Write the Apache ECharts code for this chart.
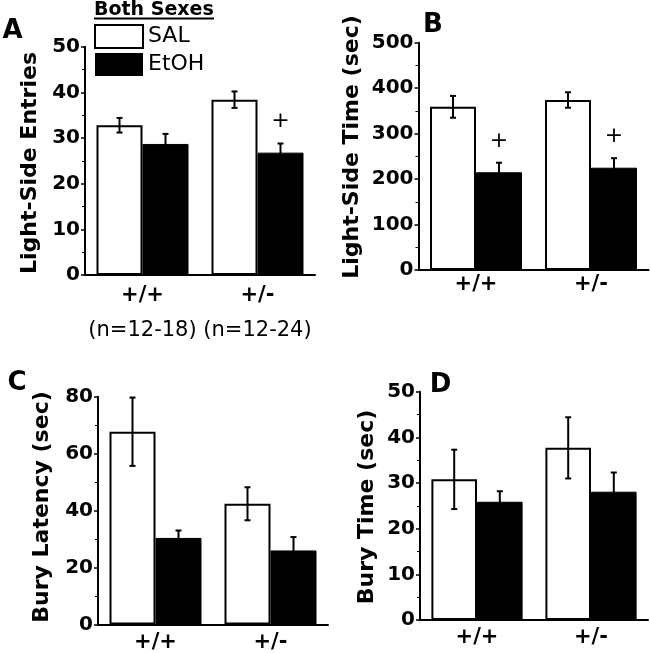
<!DOCTYPE html>
<html>
<head>
<meta charset="utf-8">
<script src="https://cdn.jsdelivr.net/npm/echarts@6/dist/echarts.min.js"></script>
<style>
html,body{margin:0;padding:0;background:#fff;}
#chart{width:650px;height:653px;}
</style>
</head>
<body>
<div id="chart"></div>
<script>
// ---- data ----
const categoriesAB = ['+/+\n(n=12-18)', '+/-\n(n=12-24)'];
const categories = ['+/+', '+/-'];
const seriesNames = ['SAL', 'EtOH'];

// Panel A: Light-Side Entries
const aSAL = [32.8, 38.4];
const aSALerr = [1.6, 1.8];
const aEtOH = [28.7, 26.8];
const aEtOHerr = [2.2, 2.0];
const aSig = ['', '+'];

// Panel B: Light-Side Time (sec)
const bSAL = [359, 374];
const bSALerr = [24, 17];
const bEtOH = [215, 225];
const bEtOHerr = [21, 21];
const bSig = ['+', '+'];

// Panel C: Bury Latency (sec)
const cSAL = [67.7, 42.4];
const cSALerr = [12, 5.8];
const cEtOH = [30.4, 26.0];
const cEtOHerr = [2.6, 4.7];
const cSig = ['', ''];

// Panel D: Bury Time (sec)
const dSAL = [30.8, 37.7];
const dSALerr = [6.5, 6.7];
const dEtOH = [25.9, 28.1];
const dEtOHerr = [2.3, 4.2];
const dSig = ['', ''];

const yAxes = [
  {max: 50, interval: 10},
  {max: 500, interval: 100},
  {max: 80, interval: 20},
  {max: 50, interval: 10}
];

const axisTitles = ['Light-Side Entries', 'Light-Side Time (sec)', 'Bury Latency (sec)', 'Bury Time (sec)'];
const panelLetters = ['A', 'B', 'C', 'D'];

// ---- layout ----
const FONT = 'DejaVu Sans';
const grids = [
  {left: 85, top: 46.7, width: 230, height: 228.3},
  {left: 418.5, top: 42.7, width: 230, height: 227.3},
  {left: 98, top: 396.7, width: 230, height: 228.3},
  {left: 420, top: 391.7, width: 228, height: 228.3}
];
const titlePos = [[30, 163], [352, 147], [42, 507], [367, 507]];
const letterPos = [[12.5, 31], [433, 25], [17, 383], [440.5, 385.5]];

const panels = [
  {sal: aSAL, salErr: aSALerr, etoh: aEtOH, etohErr: aEtOHerr, sig: aSig, cats: categoriesAB, labelMargin: 6},
  {sal: bSAL, salErr: bSALerr, etoh: bEtOH, etohErr: bEtOHerr, sig: bSig, cats: categories, labelMargin: 3},
  {sal: cSAL, salErr: cSALerr, etoh: cEtOH, etohErr: cEtOHerr, sig: cSig, cats: categories, labelMargin: 6},
  {sal: dSAL, salErr: dSALerr, etoh: dEtOH, etohErr: dEtOHerr, sig: dSig, cats: categories, labelMargin: 6}
];

const GAP = 0.2;

function errRender(sign) {
  return function (params, api) {
    const cat = api.value(0), v = api.value(1), e = api.value(2);
    const band = api.size([1, 0])[0];
    const c = api.coord([cat, v]);
    const x = c[0] + sign * band * GAP;
    const top = api.coord([cat, v + e])[1];
    const bot = api.coord([cat, v - e])[1];
    const cap = 3;
    const st = {stroke: '#000', lineWidth: 2};
    return {
      type: 'group',
      children: [
        {type: 'line', shape: {x1: x, y1: top, x2: x, y2: bot}, style: st},
        {type: 'line', shape: {x1: x - cap, y1: top, x2: x + cap, y2: top}, style: st},
        {type: 'line', shape: {x1: x - cap, y1: bot, x2: x + cap, y2: bot}, style: st}
      ]
    };
  };
}

const option = {
  backgroundColor: '#fff',
  animation: false,
  grid: grids.map(g => Object.assign({containLabel: false}, g)),
  legend: {
    selectedMode: false,
    orient: 'vertical',
    left: 94,
    top: 24,
    padding: 0,
    itemWidth: 48,
    itemHeight: 23,
    itemGap: 4,
    icon: 'rect',
    textStyle: {fontFamily: FONT, fontSize: 22, color: '#000'},
    data: [
      {name: 'SAL', itemStyle: {color: '#fff', borderColor: '#000', borderWidth: 2}},
      {name: 'EtOH', itemStyle: {color: '#000', borderWidth: 0}}
    ]
  },
  xAxis: panels.map((p, i) => ({
    type: 'category',
    gridIndex: i,
    data: p.cats,
    axisLine: {lineStyle: {color: '#000', width: 2}},
    axisTick: {alignWithLabel: true, length: 3, lineStyle: {color: '#000', width: 1.5}},
    axisLabel: {
      margin: p.labelMargin,
      color: '#000',
      interval: 0,
      formatter: function (val) {
        const parts = val.split('\n');
        return parts.length > 1 ? '{a|' + parts[0] + '}\n{b|' + parts[1] + '}' : '{c|' + parts[0] + '}';
      },
      rich: {
        a: {fontFamily: FONT, fontWeight: 'bold', fontSize: 21, color: '#000', lineHeight: 30},
        b: {fontFamily: FONT, fontSize: 21, color: '#000', lineHeight: 40},
        c: {fontFamily: FONT, fontWeight: 'bold', fontSize: 21, color: '#000', lineHeight: 24}
      }
    }
  })),
  yAxis: yAxes.map((y, i) => ({
    type: 'value',
    gridIndex: i,
    min: 0,
    max: y.max,
    interval: y.interval,
    axisLine: {show: true, lineStyle: {color: '#000', width: 2}},
    axisTick: {show: true, length: 4, lineStyle: {color: '#000', width: 1.5}},
    minorTick: {show: true, splitNumber: 2, length: 3, lineStyle: {color: '#000', width: 1}},
    splitLine: {show: false},
    axisLabel: {margin: 5, color: '#000', fontFamily: FONT, fontWeight: 'bold', fontSize: 20}
  })),
  series: [],
  graphic: []
};

panels.forEach((p, i) => {
  option.series.push({
    name: 'SAL', type: 'bar', xAxisIndex: i, yAxisIndex: i,
    data: p.sal, barGap: '0%', barCategoryGap: (GAP * 100) + '%',
    itemStyle: {color: '#fff', borderColor: '#000', borderWidth: 2},
    z: 2
  });
  option.series.push({
    name: 'EtOH', type: 'bar', xAxisIndex: i, yAxisIndex: i,
    data: p.etoh, barGap: '0%', barCategoryGap: (GAP * 100) + '%',
    itemStyle: {color: '#000', borderColor: '#000', borderWidth: 1},
    label: {
      show: true, position: 'top', distance: 20,
      formatter: (q) => p.sig[q.dataIndex],
      fontFamily: FONT, fontSize: 22, color: '#000'
    },
    z: 2
  });
  option.series.push({
    type: 'custom', xAxisIndex: i, yAxisIndex: i, z: 3,
    renderItem: errRender(-1),
    data: p.sal.map((v, k) => [k, v, p.salErr[k]])
  });
  option.series.push({
    type: 'custom', xAxisIndex: i, yAxisIndex: i, z: 3,
    renderItem: errRender(1),
    data: p.etoh.map((v, k) => [k, v, p.etohErr[k]])
  });
  option.graphic.push({
    type: 'text', x: titlePos[i][0], y: titlePos[i][1], rotation: Math.PI / 2,
    style: {text: axisTitles[i], fontFamily: FONT, fontWeight: 'bold', fontSize: 22, fill: '#000', align: 'center', verticalAlign: 'middle'}
  });
  option.graphic.push({
    type: 'text', x: letterPos[i][0], y: letterPos[i][1],
    style: {text: panelLetters[i], fontFamily: FONT, fontWeight: 'bold', fontSize: 26, fill: '#000', align: 'center', verticalAlign: 'middle'}
  });
});

// legend heading
option.graphic.push({
  type: 'text', x: 94, y: 10.5,
  style: {text: 'Both Sexes', fontFamily: FONT, fontWeight: 'bold', fontSize: 19, fill: '#000', align: 'left', verticalAlign: 'middle'}
});
option.graphic.push({
  type: 'line', shape: {x1: 94, y1: 18.5, x2: 214, y2: 18.5}, style: {stroke: '#000', lineWidth: 2}
});

const chart = echarts.init(document.getElementById('chart'), null, {renderer: 'canvas'});
chart.setOption(option);
</script>
</body>
</html>
